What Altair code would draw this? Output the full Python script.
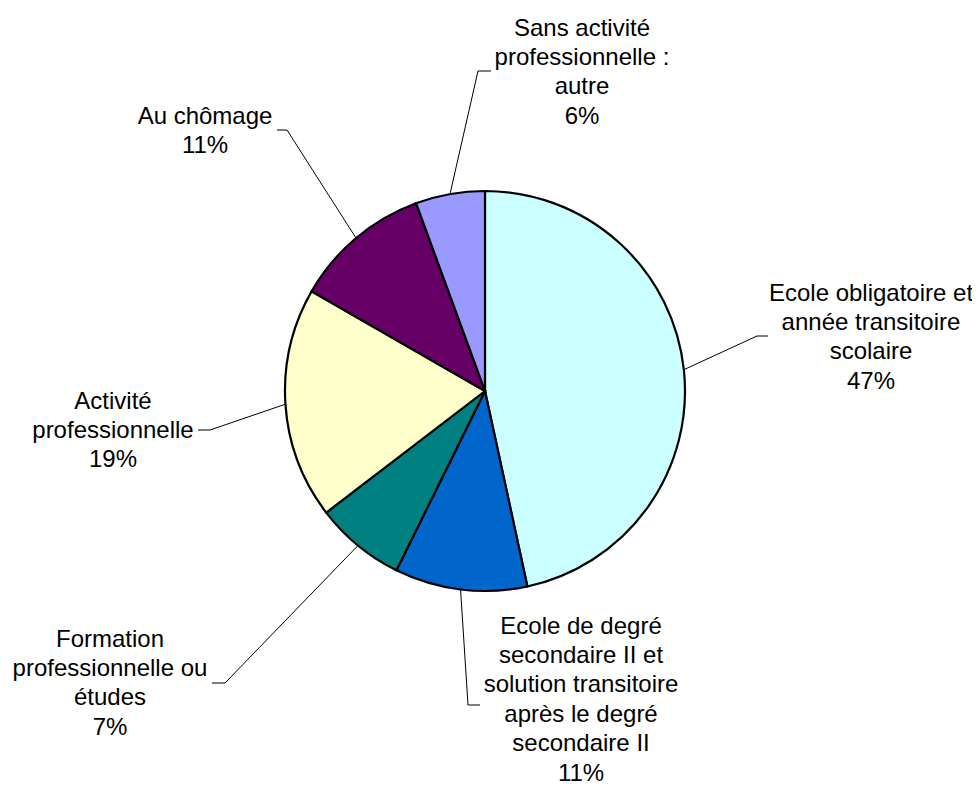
import math
import altair as alt
import pandas as pd

# ---- data ----
categories = [
    "Ecole obligatoire et année transitoire scolaire",
    "Ecole de degré secondaire II et solution transitoire après le degré secondaire II",
    "Formation professionnelle ou études",
    "Activité professionnelle",
    "Au chômage",
    "Sans activité professionnelle : autre",
]
label_names = [
    "Ecole obligatoire et\nannée transitoire\nscolaire",
    "Ecole de degré\nsecondaire II et\nsolution transitoire\naprès le degré\nsecondaire II",
    "Formation\nprofessionnelle ou\nétudes",
    "Activité\nprofessionnelle",
    "Au chômage",
    "Sans activité\nprofessionnelle :\nautre",
]
values = [46.6, 10.7, 7.3, 18.7, 11.1, 5.6]
colors = ["#CCFFFF", "#0066CC", "#008080", "#FFFFCC", "#660066", "#9999FF"]

# ---- layout (image pixel coordinates; label y = first line) ----
CX, CY, R = 485, 391, 200
label_xy = [(871, 293.5), (581, 626.5), (110, 639.5), (113, 401.5), (205, 116.5), (582, 28.5)]
elbow_xy = [(757, 336), (468, 705), (225, 683), (210, 430), (287, 130), (478, 71)]
tick_dx = [11, 12, -13, -12, -10, 13]

total = sum(values)
pie_rows, line_rows, text_rows = [], [], []
cum = 0.0
for i, (cat, v) in enumerate(zip(categories, values)):
    pie_rows.append({"category": cat, "value": v, "idx": i})
    mid = (cum + v / 2) / total * 2 * math.pi
    cum += v
    ex = CX + R * math.sin(mid)
    ey = CY - R * math.cos(mid)
    bx, by = elbow_xy[i]
    line_rows += [
        {"category": cat, "k": 0, "px": ex, "py": ey},
        {"category": cat, "k": 1, "px": bx, "py": by},
        {"category": cat, "k": 2, "px": bx + tick_dx[i], "py": by},
    ]
    pct = int(math.floor(v + 0.5))
    text_rows.append({"category": cat, "label": f"{label_names[i]}\n{pct}%",
                      "tx": label_xy[i][0], "ty": label_xy[i][1]})

pie_df = pd.DataFrame(pie_rows)
line_df = pd.DataFrame(line_rows)
text_df = pd.DataFrame(text_rows)

xs = alt.Scale(domain=[8, 972], nice=False, zero=False)
ys = alt.Scale(domain=[8, 786], reverse=True, nice=False, zero=False)

pie = alt.Chart(pie_df).mark_arc(outerRadius=R, stroke="black", strokeWidth=2.2).encode(
    theta=alt.Theta("value:Q", stack=True),
    order=alt.Order("idx:Q"),
    color=alt.Color("category:N", scale=alt.Scale(domain=categories, range=colors), legend=None),
    x=alt.value(CX - 8),
    y=alt.value(CY - 8),
)

lines = alt.Chart(line_df).mark_line(color="black", strokeWidth=1).encode(
    x=alt.X("px:Q", scale=xs, axis=None),
    y=alt.Y("py:Q", scale=ys, axis=None),
    detail="category:N",
    order="k:Q",
)

texts = alt.Chart(text_df).mark_text(
    align="center", baseline="middle", fontSize=24, font="Liberation Sans",
    lineBreak="\n", lineHeight=29.4, color="black",
).encode(
    x=alt.X("tx:Q", scale=xs, axis=None),
    y=alt.Y("ty:Q", scale=ys, axis=None),
    text="label:N",
)

chart = alt.layer(lines, pie, texts).properties(
    width=964, height=778, padding=0,
    autosize=alt.AutoSizeParams(type="none"),
).configure_view(stroke=None)

chart.save("out.html", embed_options={"renderer": "svg", "actions": False})
